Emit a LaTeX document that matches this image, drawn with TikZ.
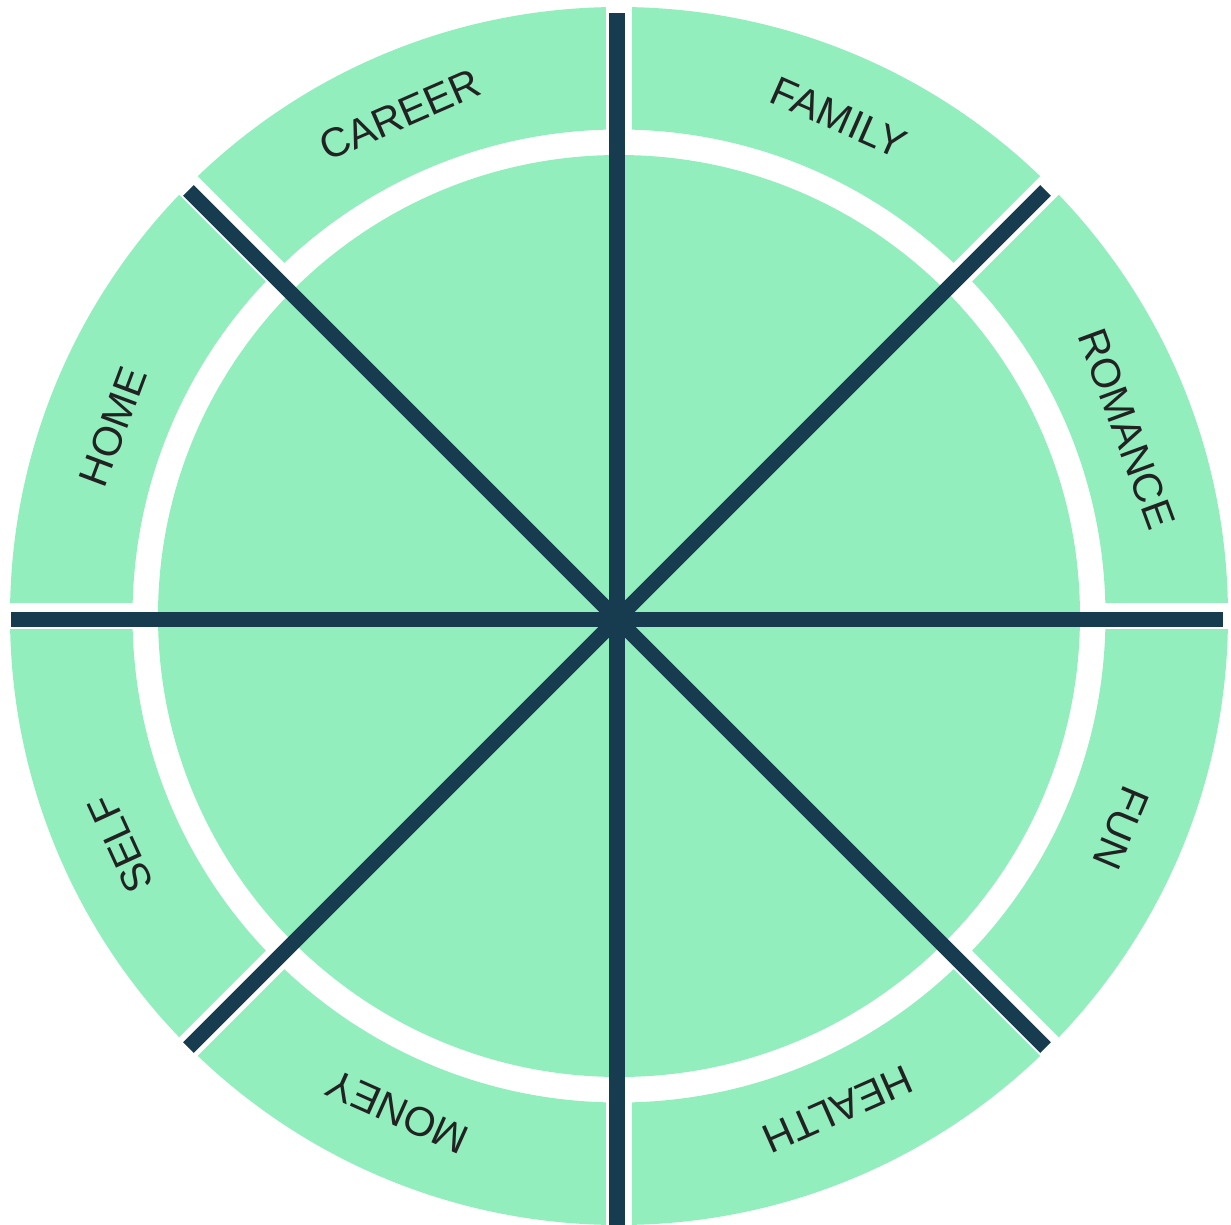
\documentclass[tikz,border=0pt]{standalone}
\usepackage{fontspec}
\setmainfont{Liberation Sans}
\usetikzlibrary{calc}
\definecolor{wgreen}{RGB}{147,238,189}
\definecolor{navy}{RGB}{23,60,79}
\definecolor{ink}{RGB}{34,34,34}
\begin{document}
\begin{tikzpicture}[x=1pt,y=1pt,
  ringfill/.style={fill=wgreen,draw=none},
  gapband/.style={draw=white,line width=26pt},
  spoke/.style={draw=navy,line width=15pt,line cap=butt},
  lbl/.style={text=ink,font=\fontsize{41}{41}\selectfont,inner sep=0pt,anchor=center}]
\useasboundingbox (-619,-608) rectangle (612,616);
% outer ring
\fill[ringfill,even odd rule] (0,0) circle[radius=609] (0,0) circle[radius=486.5];
% inner disc
\fill[ringfill] (0,0) circle[radius=461];
% white gaps between segments
\foreach \a in {0,45,...,315}{
  \draw[gapband] (\a:475) -- (\a:640);
}
% spokes
\coordinate (hub) at (-2,-3);
\foreach \a/\n in {0/e0,45/e1,90/e2,135/e3,180/e4,225/e5,270/e6,315/e7}{
  \coordinate (\n) at ($(hub)+(\a:606)$);
}
\foreach \n in {e0,e1,e2,e3,e4,e5,e6,e7}{
  \draw[spoke] (hub) -- (\n);
}
% labels
\node[lbl,rotate=-23.8]  (family)  at (66.2:545)   {FAMILY};
\node[lbl,rotate=23.6]   (career)  at (113.6:547)  {CAREER};
\node[lbl,rotate=69.5]   (home)    at (159.5:540)  {HOME};
\node[lbl,rotate=114.6]  (self)    at (204.6:548)  {SELF};
\node[lbl,rotate=155.9]  (money)   at (245.9:543)  {MONEY};
\node[lbl,rotate=-156.1] (health)  at (293.9:540)  {HEALTH};
\node[lbl,rotate=-112.9] (fun)     at (337.1:545)  {FUN};
\node[lbl,rotate=-69.8]  (romance) at (20.2:541)   {ROMANCE};
\end{tikzpicture}
\end{document}
